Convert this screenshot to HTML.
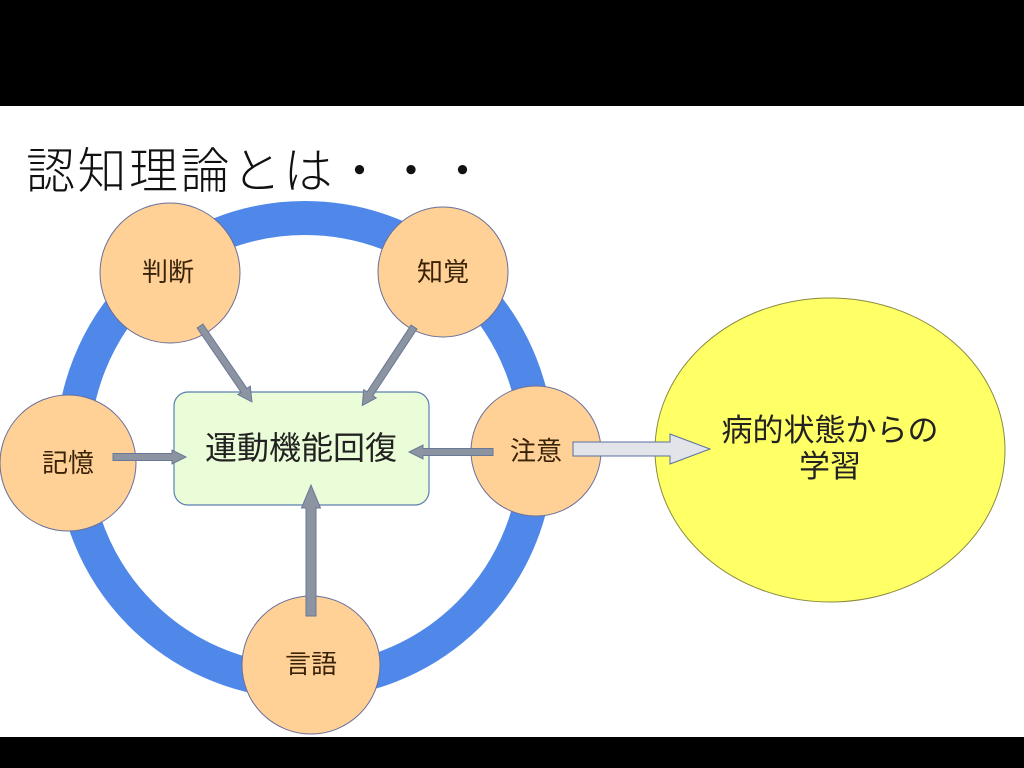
<!DOCTYPE html>
<html><head><meta charset="utf-8">
<style>
html,body{margin:0;padding:0;background:#fff;}
svg{display:block;}
text{font-family:"Liberation Sans","Noto Sans CJK JP",sans-serif;}
</style></head>
<body>
<svg width="1024" height="768" viewBox="0 0 1024 768" xmlns="http://www.w3.org/2000/svg">
<rect x="0" y="0" width="1024" height="768" fill="#fff"/>
<rect x="0" y="0" width="1024" height="106" fill="#000"/>
<rect x="0" y="737" width="1024" height="31" fill="#000"/>
<text x="26" y="188" font-size="49" font-weight="300" letter-spacing="2.5" fill="#111" style="font-family:'Noto Sans CJK JP',sans-serif">認知理論とは・・・</text>

<circle cx="305" cy="450" r="232" fill="none" stroke="#4f88e8" stroke-width="34"/>

<ellipse cx="830" cy="450" rx="175" ry="152" fill="#ffff66" stroke="#8a8a40" stroke-width="1"/>
<text x="830" y="441" font-size="31" text-anchor="middle" fill="#222">病的状態からの</text>
<text x="830" y="477" font-size="31" text-anchor="middle" fill="#222">学習</text>

<g fill="#ffd196" stroke="#6b6f9a" stroke-width="1">
<circle cx="170" cy="273" r="70"/>
<circle cx="443" cy="272" r="65"/>
<circle cx="68" cy="463" r="68"/>
<circle cx="536" cy="451" r="65"/>
<circle cx="311" cy="665" r="69"/>
</g>
<g font-size="26" fill="#3a2208" text-anchor="middle">
<text x="168" y="281">判断</text>
<text x="443" y="281">知覚</text>
<text x="68" y="472">記憶</text>
<text x="536" y="460">注意</text>
<text x="311" y="673">言語</text>
</g>

<rect x="174" y="392" width="255" height="113" rx="14" fill="#ebfdd8" stroke="#5a7fb0" stroke-width="1.2"/>
<text x="301" y="459" font-size="32" text-anchor="middle" fill="#222">運動機能回復</text>

<g fill="#8c94a2" stroke="#6a7898" stroke-width="1">
<polygon transform="translate(200,326) rotate(55.6)" points="0,-3.5 78,-3.5 78,-7.5 92,0 78,7.5 78,3.5 0,3.5"/>
<polygon transform="translate(414,327) rotate(123.4)" points="0,-3.5 80,-3.5 80,-7.5 94,0 80,7.5 80,3.5 0,3.5"/>
<polygon transform="translate(113,457) rotate(0)" points="0,-3.5 59,-3.5 59,-7 73,0 59,7 59,3.5 0,3.5"/>
<polygon transform="translate(493,452) rotate(180)" points="0,-3.5 70,-3.5 70,-7 84,0 70,7 70,3.5 0,3.5"/>
<polygon transform="translate(311,616) rotate(-90)" points="0,-5 108,-5 108,-9.5 131,0 108,9.5 108,5 0,5"/>
</g>
<polygon points="573,442 670,442 670,434 710,449 670,464 670,456 573,456" fill="#e3e4ea" stroke="#5a70a0" stroke-width="1"/>
</svg>
</body></html>
